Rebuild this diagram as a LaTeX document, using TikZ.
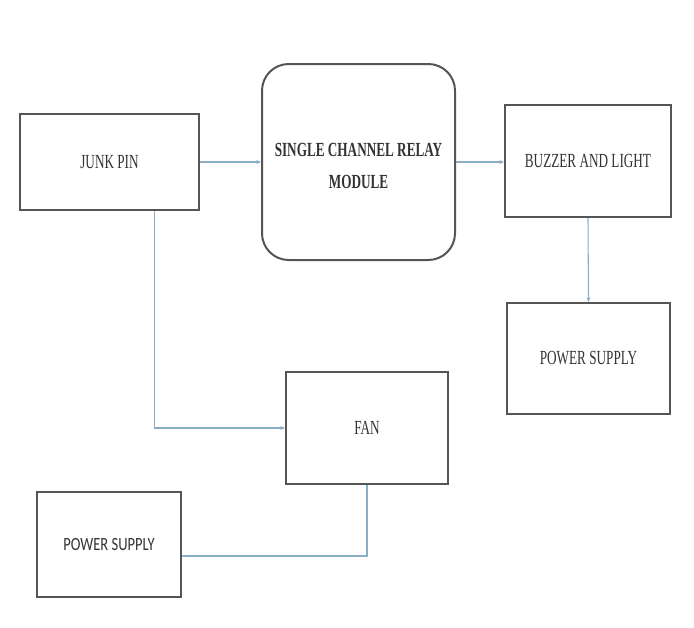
\documentclass[tikz,border=0pt]{standalone}
\usepackage{fontspec}
\setmainfont{Liberation Serif}[FakeStretch=0.66]
\newfontfamily\psfont{Carlito}[FakeStretch=0.78]
\usetikzlibrary{arrows.meta,calc}
\definecolor{boxline}{HTML}{555555}
\definecolor{wire}{HTML}{8AAEC6}
\definecolor{txt}{HTML}{333333}
\begin{document}
\begin{tikzpicture}[x=0.75pt,y=-0.75pt,
  blk/.style={draw=boxline, line width=1.5pt, inner sep=0pt, align=center,
    text=txt, font=\fontsize{15}{24}\selectfont},
  wireline/.style={draw=wire, line width=0.8pt},
  arr/.style={wireline, -{Stealth[length=3.5pt,width=3pt]}}]
\useasboundingbox[fill=white] (0,0) rectangle (694,628);
\node[blk, minimum width=179*0.75pt, minimum height=96*0.75pt] (junk) at (109.5,162) {JUNK PIN};
\node[blk, rounded corners=20pt, minimum width=193*0.75pt, minimum height=196*0.75pt, font=\fontsize{15}{24}\selectfont\bfseries] (relay) at (358.5,162) {\raisebox{0pt}[\dimexpr\height+6pt\relax][\depth]{\begin{tabular}{@{}c@{}}SINGLE CHANNEL RELAY\\MODULE\end{tabular}}};
\node[blk, minimum width=166*0.75pt, minimum height=112*0.75pt] (buzz) at (588,161) {BUZZER AND LIGHT};
\node[blk, minimum width=163*0.75pt, minimum height=111*0.75pt] (ps1) at (588.5,358.5) {POWER SUPPLY};
\node[blk, minimum width=162*0.75pt, minimum height=112*0.75pt] (fan) at (367,428) {FAN};
\node[blk, minimum width=144*0.75pt, minimum height=105*0.75pt, font=\fontsize{14}{16}\psfont] (ps2) at (109,544.5) {POWER SUPPLY};
\coordinate (jdown) at ($(junk.south)+(45,0)$);
\coordinate (pout) at ($(ps2.east)+(0,11.5)$);
\draw[arr] (junk.east) -- (relay.west);
\draw[arr] (relay.east) -- (relay.east -| buzz.west);
\draw[arr] (buzz.south) -- (ps1.north);
\draw[arr] (jdown) |- (fan.west);
\draw[wireline] (pout) -| (fan.south);
\end{tikzpicture}
\end{document}
